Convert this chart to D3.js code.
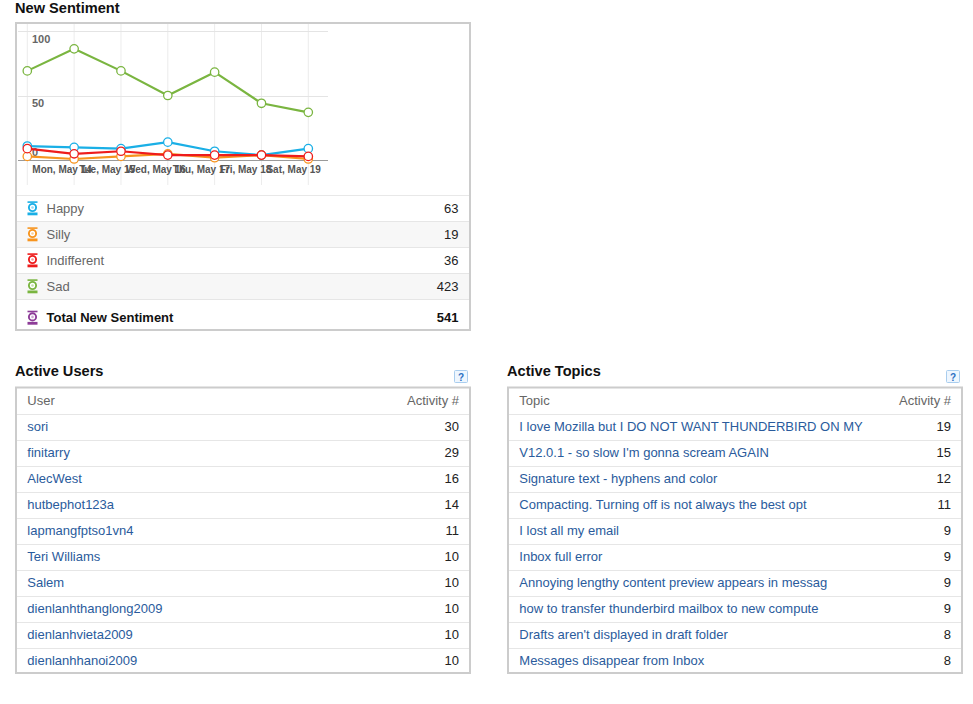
<!DOCTYPE html>
<html><head><meta charset="utf-8">
<script src="https://cdn.jsdelivr.net/npm/d3@7"></script>
<style>
html,body{margin:0;padding:0;background:#fff;}
svg{display:block;font-family:"Liberation Sans",Arial,Helvetica,sans-serif;}
</style></head>
<body>
<svg id="c" width="973" height="704"></svg>
<script>
// ---------- data ----------
const days = [0,1,2,3,4,5,6];
const tickLabels = ["Mon, May 14","Tue, May 15","Wed, May 16","Thu, May 17","Fri, May 18","Sat, May 19"];
const yTicks = [0,50,100];
const happy = [11,10,9,14,7,4,9];
const silly = [3,1,3,5,2,4,1];
const indifferent = [9,5,7,4,4,4,3];
const sad = [69,86,69,50,68,44,37];
const seriesNames = ["Happy","Silly","Indifferent","Sad"];
const seriesTotals = [63,19,36,423];
const totalLabel = "Total New Sentiment";
const totalValue = 541;
const userNames = ["sori","finitarry","AlecWest","hutbephot123a","lapmangfptso1vn4","Teri Williams","Salem","dienlanhthanglong2009","dienlanhvieta2009","dienlanhhanoi2009"];
const userActivity = [30,29,16,14,11,10,10,10,10,10];
const topicNames = ["I love Mozilla but I DO NOT WANT THUNDERBIRD ON MY","V12.0.1 - so slow I'm gonna scream AGAIN","Signature text - hyphens and color","Compacting. Turning off is not always the best opt","I lost all my email","Inbox full error","Annoying lengthy content preview appears in messag","how to transfer thunderbird mailbox to new compute","Drafts aren't displayed in draft folder","Messages disappear from Inbox"];
const topicActivity = [19,15,12,11,9,9,9,9,8,8];

const colors = {Happy:"#1aafe6",Silly:"#f7941e",Indifferent:"#ee1c1c",Sad:"#7ab540",Total:"#8d3c98"};
const seriesData = [happy,silly,indifferent,sad];

const svg = d3.select("#c");
const FONT_T = "14.6px";
const FS = "13px";
const linkColor = "#2a5b9c";

function title(x, y, t){
  svg.append("text").attr("x",x).attr("y",y).attr("font-size",FONT_T).attr("font-weight","bold").attr("fill","#111").text(t);
}
function box(x,y,w,h){
  svg.append("rect").attr("x",x).attr("y",y).attr("width",w).attr("height",h)
    .attr("fill","#fff").attr("stroke","#cccccc").attr("stroke-width",2);
}
function help(x,y){
  const g = svg.append("g").attr("transform",`translate(${x},${y})`);
  g.append("rect").attr("x",0.5).attr("y",0.5).attr("width",13).attr("height",12).attr("rx",1)
   .attr("fill","#eef6fe").attr("stroke","#a9cdee");
  g.append("text").attr("x",7).attr("y",10.5).attr("text-anchor","middle").attr("font-size","10px")
   .attr("font-weight","bold").attr("fill","#2b6fc2").text("?");
}

// ---------- New Sentiment ----------
title(15, 13.3, "New Sentiment");
box(16, 23, 454, 307);

const x = d3.scalePoint().domain(days).range([27.3, 308.3]);
const y = d3.scaleLinear().domain([0,100]).range([160.3, 30.7]);

const plot = svg.append("g");
plot.selectAll("line.v").data(days).join("line")
  .attr("x1",d=>x(d)).attr("x2",d=>x(d)).attr("y1",24).attr("y2",185)
  .attr("stroke","#ececec").attr("stroke-width",1);
plot.selectAll("line.h").data(yTicks.filter(t=>t>0)).join("line")
  .attr("x1",18).attr("x2",328).attr("y1",d=>Math.round(y(d))+0.5).attr("y2",d=>Math.round(y(d))+0.5)
  .attr("stroke","#e4e4e4");
plot.append("line").attr("x1",18).attr("x2",328).attr("y1",160.5).attr("y2",160.5).attr("stroke","#9a9a9a");
const yLabelBase = {100:43.3, 50:107.3, 0:156};
plot.selectAll("text.y").data(yTicks).join("text")
  .attr("x",32).attr("y",d=>yLabelBase[d]).attr("font-size","11px").attr("font-weight","bold")
  .attr("fill","#666").text(d=>d);
plot.selectAll("text.x").data(tickLabels).join("text")
  .attr("x",(d,i)=>x(days[i])+5).attr("y",173.3).attr("font-size","10px").attr("font-weight","bold")
  .attr("fill","#555").text(d=>d);

const line = d3.line().x((d,i)=>x(days[i])).y(d=>y(d));
seriesData.forEach((vals,si)=>{
  const c = colors[seriesNames[si]];
  const g = plot.append("g");
  g.append("path").datum(vals).attr("d",line).attr("fill","none").attr("stroke",c).attr("stroke-width",2.2)
   .attr("stroke-linejoin","round");
  g.selectAll("circle").data(vals).join("circle")
   .attr("cx",(d,i)=>x(days[i])).attr("cy",d=>y(d)).attr("r",4.2)
   .attr("fill","#fff").attr("stroke",c).attr("stroke-width",1.3);
});

function icon(g, cx, cy, c){
  g.append("rect").attr("x",cx-5).attr("y",cy-7).attr("width",10).attr("height",1.6).attr("fill",c);
  g.append("circle").attr("cx",cx).attr("cy",cy-0.8).attr("r",3.6).attr("fill","#fff").attr("stroke",c).attr("stroke-width",1.9);
  g.append("circle").attr("cx",cx).attr("cy",cy-0.8).attr("r",1.3).attr("fill",c).attr("opacity",0.45);
  g.append("rect").attr("x",cx-5).attr("y",cy+4.2).attr("width",10).attr("height",2.8).attr("fill",c);
}
const leg = svg.append("g");
const rowTop = 195, rowH = 26;
leg.append("line").attr("x1",17).attr("x2",469).attr("y1",rowTop+0.5).attr("y2",rowTop+0.5).attr("stroke","#e8e8e8");
seriesNames.forEach((n,i)=>{
  const top = rowTop + i*rowH;
  if(i%2===1) leg.append("rect").attr("x",17).attr("y",top+1).attr("width",452).attr("height",rowH-1).attr("fill","#f7f7f7");
  leg.append("line").attr("x1",17).attr("x2",469).attr("y1",top+rowH+0.5).attr("y2",top+rowH+0.5).attr("stroke","#e6e6e6");
  const cy = top + 13.3;
  icon(leg, 32.5, cy, colors[n]);
  leg.append("text").attr("x",46.5).attr("y",cy+4.6).attr("font-size",FS).attr("fill","#666").text(n);
  leg.append("text").attr("x",458.5).attr("y",cy+4.6).attr("text-anchor","end").attr("font-size",FS).attr("fill","#222").text(seriesTotals[i]);
});
{
  const cy = 317.7;
  icon(leg, 32.5, cy, colors.Total);
  leg.append("text").attr("x",46.5).attr("y",cy+4.6).attr("font-size",FS).attr("font-weight","bold").attr("fill","#111").text(totalLabel);
  leg.append("text").attr("x",458.5).attr("y",cy+4.6).attr("text-anchor","end").attr("font-size",FS).attr("font-weight","bold").attr("fill","#111").text(totalValue);
}

// ---------- tables ----------
function table(x0, headL, headR, names, vals, titleText){
  title(x0, 375.7, titleText);
  help(x0+439, 370);
  box(x0+1, 387.5, 454, 285.5);
  const g = svg.append("g");
  const hy = 400.7;
  g.append("text").attr("x",x0+12.3).attr("y",hy+4.6).attr("font-size",FS).attr("fill","#666").text(headL);
  g.append("text").attr("x",x0+444).attr("y",hy+4.6).attr("text-anchor","end").attr("font-size",FS).attr("fill","#666").text(headR);
  names.forEach((n,i)=>{
    const sep = 413.7 + i*26;
    g.append("line").attr("x1",x0+2).attr("x2",x0+454).attr("y1",Math.round(sep)+0.5).attr("y2",Math.round(sep)+0.5).attr("stroke","#e6e6e6");
    const cy = 426.7 + i*26;
    g.append("text").attr("x",x0+12.3).attr("y",cy+4.6).attr("font-size",FS).attr("fill",linkColor).text(n);
    g.append("text").attr("x",x0+444).attr("y",cy+4.6).attr("text-anchor","end").attr("font-size",FS).attr("fill","#222").text(vals[i]);
  });
}
table(15, "User", "Activity #", userNames, userActivity, "Active Users");
table(507, "Topic", "Activity #", topicNames, topicActivity, "Active Topics");
</script>
</body></html>
